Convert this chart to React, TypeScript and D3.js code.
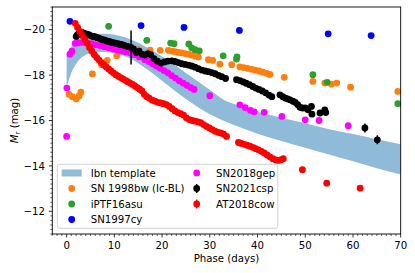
import React, { useEffect } from "react";
import * as d3 from "d3";

// Ibn template band (days, bright edge, faint edge)
const bandDays = [0, 1, 2, 3, 4, 6, 8, 10, 12, 14, 16, 18, 20, 22, 24, 26, 28, 30, 33, 36, 40, 45, 50, 55, 60, 65, 70];
const bandUpper = [-18.85, -19.25, -19.5, -19.64, -19.72, -19.8, -19.82, -19.78, -19.68, -19.52, -19.32, -19.08, -18.82, -18.55, -18.25, -17.95, -17.65, -17.35, -16.9, -16.66, -16.38, -16.12, -15.88, -15.62, -15.4, -15.17, -14.95];
const bandLower = [-17.45, -18.1, -18.5, -18.75, -18.9, -19.0, -19.02, -18.97, -18.85, -18.65, -18.38, -18.08, -17.75, -17.42, -17.1, -16.8, -16.52, -16.28, -15.98, -15.72, -15.42, -15.1, -14.8, -14.5, -14.2, -13.9, -13.62];

const sn1998bw: [number, number][] = [
  [0.5, -17.15], [1.2, -17.05], [2.0, -16.95], [2.6, -17.08], [3.0, -17.25],
  [5.4, -18.05], [7.3, -18.46], [8.5, -18.65], [10.5, -18.85],
  [15.1, -19.12], [17.5, -19.1], [19.6, -19.09], [21.3, -19.09], [22.0, -19.06], [22.7, -19.03], [23.4, -19.0], [24.1, -18.98], [24.8, -18.95], [25.5, -18.92], [26.2, -18.88], [26.9, -18.84], [27.6, -18.8],
  [29.7, -18.68], [30.6, -18.65], [32.1, -18.48], [34.6, -18.46], [36.3, -18.36], [37.1, -18.33], [37.9, -18.3], [38.7, -18.26], [39.5, -18.22], [40.3, -18.18], [41.1, -18.13], [41.9, -18.08], [42.6, -18.03],
  [45.6, -17.9], [51.6, -17.72], [54.1, -17.65], [55.5, -17.6], [56.6, -17.65], [59.5, -17.47], [69.4, -17.28],
];

const iptf16asu: [number, number][] = [
  [8.8, -20.15], [16.8, -19.53], [21.8, -19.41], [22.5, -19.38], [25.6, -19.37], [26.2, -19.2], [26.9, -19.12], [27.8, -19.07],
  [32.8, -18.85], [35.6, -18.71], [35.7, -18.8], [51.6, -18.02], [54.6, -17.68], [69.4, -16.74],
];

const sn1997cy: [number, number][] = [
  [0.7, -20.37], [15.6, -20.18], [24.6, -20.1], [36.2, -19.97], [54.8, -19.82], [63.8, -19.74],
];

const sn2018gep: [number, number][] = [
  [0, -15.3], [0.05, -17.43], [0.7, -18.92], [1.1, -19.05], [1.8, -19.4], [2.5, -19.42], [3.4, -19.44], [4.3, -19.42], [5.2, -19.38], [6.1, -19.34], [7.0, -19.3], [7.9, -19.25], [8.8, -19.2], [9.7, -19.15], [10.6, -19.11], [11.5, -19.06], [12.4, -19.02], [13.3, -18.98], [14.2, -18.9], [15.2, -18.8],
  [16.4, -18.68], [17.2, -18.6], [18.0, -18.5], [18.8, -18.4], [19.6, -18.3], [20.4, -18.2], [21.2, -18.1], [22.0, -17.98], [22.8, -17.87], [23.6, -17.75], [24.4, -17.65], [25.2, -17.55], [26.0, -17.45], [26.7, -17.37],
  [30.0, -17.09], [36.3, -16.69], [37.4, -16.57], [38.5, -16.45], [39.3, -16.38], [41.4, -16.36], [45.1, -16.18], [50.0, -16.03], [52.9, -16.0], [59.0, -15.77],
];

// day, mag, error
const sn2021csp: [number, number, number][] = [
  [2.0, -19.7, 0.05], [2.3, -19.78, 0.05], [2.6, -19.85, 0.05], [2.9, -19.88, 0.05], [3.2, -19.88, 0.05], [3.6, -19.85, 0.05], [3.9, -19.82, 0.05], [4.3, -19.8, 0.05], [4.6, -19.78, 0.05], [5.0, -19.74, 0.05], [5.3, -19.71, 0.05], [5.7, -19.7, 0.05], [6.0, -19.68, 0.05], [6.4, -19.65, 0.05], [6.7, -19.63, 0.05], [7.1, -19.6, 0.05], [7.4, -19.56, 0.05], [7.8, -19.55, 0.05], [8.1, -19.53, 0.05], [8.5, -19.5, 0.05], [8.8, -19.48, 0.05], [9.2, -19.46, 0.05], [9.5, -19.44, 0.05], [9.9, -19.42, 0.05], [10.2, -19.41, 0.05], [10.6, -19.39, 0.05], [10.9, -19.37, 0.05], [11.3, -19.35, 0.05], [11.6, -19.34, 0.05], [12.0, -19.31, 0.05], [12.3, -19.29, 0.05], [12.8, -19.26, 0.05], [13.5, -19.22, 0.75],
  [14.0, -19.15, 0.05], [14.6, -19.0, 0.05], [15.2, -19.05, 0.05], [15.8, -18.92, 0.05], [16.4, -18.88, 0.05], [17.0, -18.95, 0.05], [17.6, -18.9, 0.05], [18.3, -18.72, 0.05], [19.0, -18.62, 0.05], [19.8, -18.53, 0.05], [20.5, -18.58, 0.05], [21.2, -18.62, 0.05], [22.0, -18.63, 0.05], [22.7, -18.6, 0.05], [23.4, -18.55, 0.05], [24.1, -18.5, 0.05], [24.8, -18.47, 0.05], [25.5, -18.44, 0.05], [26.2, -18.4, 0.05], [26.9, -18.35, 0.05], [27.6, -18.28, 0.05], [28.3, -18.22, 0.05], [29.0, -18.18, 0.05], [29.7, -18.15, 0.05], [30.4, -18.11, 0.05], [31.1, -18.06, 0.05], [31.8, -17.99, 0.05], [32.5, -17.93, 0.05], [33.3, -17.85, 0.05],
  [35.6, -17.8, 0.05], [36.3, -17.76, 0.05], [37.0, -17.7, 0.05], [37.6, -17.64, 0.05], [38.3, -17.58, 0.05], [39.0, -17.5, 0.05], [39.6, -17.43, 0.05], [40.3, -17.37, 0.05], [41.0, -17.3, 0.05], [41.7, -17.22, 0.05], [42.4, -17.12, 0.05], [43.0, -17.05, 0.05],
  [44.7, -17.13, 0.05], [45.3, -17.05, 0.05], [45.8, -16.99, 0.05], [46.3, -16.95, 0.05], [46.8, -16.91, 0.05], [47.4, -16.85, 0.05], [47.9, -16.8, 0.05], [48.4, -16.7, 0.05], [48.9, -16.58, 0.05], [49.4, -16.55, 0.05], [50.0, -16.55, 0.05], [50.6, -16.47, 0.05], [51.3, -16.62, 0.05], [51.4, -16.28, 0.05], [53.1, -16.33, 0.05], [54.1, -16.47, 0.05], [54.3, -16.35, 0.05],
  [62.5, -15.67, 0.2], [65.1, -15.15, 0.2],
];

const at2018cow: [number, number][] = [
  [1.8, -20.28], [2.3, -20.1], [2.8, -19.92], [3.3, -19.75], [3.8, -19.58], [4.3, -19.4], [4.8, -19.22], [5.3, -19.05], [5.8, -18.9], [6.3, -18.77], [6.8, -18.66], [7.3, -18.55], [7.8, -18.45], [8.3, -18.36], [8.8, -18.27], [9.3, -18.18], [9.8, -18.1], [10.3, -18.02], [10.8, -17.95], [11.3, -17.89], [11.8, -17.83], [12.3, -17.77], [12.8, -17.71], [13.3, -17.65], [13.8, -17.59], [14.3, -17.52], [14.8, -17.45], [15.3, -17.38], [15.8, -17.3],
  [16.3, -17.15], [16.8, -17.05], [17.3, -16.98], [17.9, -16.9], [18.5, -16.85], [19.1, -16.8], [19.7, -16.77], [20.3, -16.74], [20.9, -16.7], [21.5, -16.62], [22.1, -16.52], [22.7, -16.42], [23.3, -16.35], [23.9, -16.3], [24.5, -16.24], [25.1, -16.12], [25.7, -16.04], [26.3, -16.0], [26.9, -15.97], [27.5, -15.94], [28.1, -15.9], [28.7, -15.82], [29.3, -15.74], [29.9, -15.67], [30.5, -15.6], [31.1, -15.53], [31.7, -15.48], [32.3, -15.45], [32.9, -15.4], [33.5, -15.3],
  [36.0, -15.03], [36.6, -14.99], [37.2, -14.95], [37.8, -14.91], [38.4, -14.87], [39.0, -14.82], [39.6, -14.76], [40.2, -14.71], [40.8, -14.64], [41.4, -14.57], [42.0, -14.48], [42.6, -14.4], [43.2, -14.32], [43.8, -14.26], [44.4, -14.24], [45.0, -14.27], [45.4, -14.32],
  [49.4, -13.83], [54.5, -13.24], [61.5, -13.02],
];

const xMajorTicks = [0, 10, 20, 30, 40, 50, 60, 70];
const yMajorTicks = [-20, -18, -16, -14, -12];

const FONT = "DejaVu Sans, Verdana, sans-serif";

export default function App() {
  useEffect(() => {
    document.body.style.margin = "0";
  }, []);

  const W = 415;
  const H = 273;
  const x = d3.scaleLinear().domain([-3, 70]).range([52.3, 400.7]);
  const y = d3.scaleLinear().domain([-21, -11]).range([7, 234]);
  const [x0, x1] = x.range();
  const [y0, y1] = y.range();

  const area = d3
    .area<number>()
    .x((d) => x(d))
    .y0((_, i) => y(bandLower[i]))
    .y1((_, i) => y(bandUpper[i]))
    .curve(d3.curveMonotoneX);

  const xMinor = d3.range(-3, 71, 1).filter((v) => !xMajorTicks.includes(v));
  const yMinor = d3.range(-21, -10.99, 0.2).map((v) => Math.round(v * 10) / 10).filter((v) => !yMajorTicks.includes(v));

  const r = 3.4;
  const fmt = (v: number) => (v < 0 ? "\u2212" + Math.abs(v) : String(v));

  const legendRows1 = [173, 188.5, 204, 219.5];
  const legendRows2 = [173, 188.5, 204];
  const lx1 = 71.7, tx1 = 90.7, lx2 = 196.7, tx2 = 216;

  return (
    <svg width={W} height={H} style={{ position: "absolute", left: 0, top: 0, background: "#fff" }} fontFamily={FONT}>
      <defs>
        <clipPath id="plotclip">
          <rect x={x0} y={y0} width={x1 - x0} height={y1 - y0} />
        </clipPath>
      </defs>
      <rect width={W} height={H} fill="#fff" />
      <g clipPath="url(#plotclip)">
        <path d={area(bandDays) || ""} fill="#1f77b4" fillOpacity={0.5} />
        {sn1998bw.map((d, i) => (
          <circle key={"o" + i} cx={x(d[0])} cy={y(d[1])} r={r} fill="#ff7f0e" />
        ))}
        {iptf16asu.map((d, i) => (
          <circle key={"g" + i} cx={x(d[0])} cy={y(d[1])} r={r} fill="#2ca02c" />
        ))}
        {sn1997cy.map((d, i) => (
          <circle key={"b" + i} cx={x(d[0])} cy={y(d[1])} r={r} fill="#0000ff" />
        ))}
        {sn2018gep.map((d, i) => (
          <circle key={"m" + i} cx={x(d[0])} cy={y(d[1])} r={r} fill="#ff00ff" />
        ))}
        {sn2021csp.map((d, i) => (
          <g key={"k" + i}>
            <line x1={x(d[0])} x2={x(d[0])} y1={y(d[1] - d[2])} y2={y(d[1] + d[2])} stroke="#000" strokeWidth={1.5} />
            <circle cx={x(d[0])} cy={y(d[1])} r={r} fill="#000" />
          </g>
        ))}
        {at2018cow.map((d, i) => (
          <circle key={"r" + i} cx={x(d[0])} cy={y(d[1])} r={r} fill="#ff0000" />
        ))}
      </g>

      {/* frame */}
      <rect x={x0} y={y0} width={x1 - x0} height={y1 - y0} fill="none" stroke="#000" strokeWidth={0.9} />

      {/* x ticks */}
      {xMinor.map((v) => (
        <line key={"xm" + v} x1={x(v)} x2={x(v)} y1={y1} y2={y1 + 2} stroke="#000" strokeWidth={0.6} />
      ))}
      {xMajorTicks.map((v) => (
        <g key={"xt" + v}>
          <line x1={x(v)} x2={x(v)} y1={y1} y2={y1 + 3.5} stroke="#000" strokeWidth={0.8} />
          <text x={x(v)} y={249} fontSize={10.2} textAnchor="middle" fill="#000">{fmt(v)}</text>
        </g>
      ))}
      {/* y ticks */}
      {yMinor.map((v) => (
        <line key={"ym" + v} x1={x0 - 2} x2={x0} y1={y(v)} y2={y(v)} stroke="#000" strokeWidth={0.6} />
      ))}
      {yMajorTicks.map((v) => (
        <g key={"yt" + v}>
          <line x1={x0 - 3.5} x2={x0} y1={y(v)} y2={y(v)} stroke="#000" strokeWidth={0.8} />
          <text x={45} y={y(v) + 3.7} fontSize={10.2} textAnchor="end" fill="#000">{fmt(v)}</text>
        </g>
      ))}

      {/* axis labels */}
      <text x={(x0 + x1) / 2} y={262} fontSize={10.2} textAnchor="middle" fill="#000">Phase (days)</text>
      <text transform={`translate(18,${(y0 + y1) / 2}) rotate(-90)`} fontSize={10.2} textAnchor="middle" fill="#000">
        <tspan fontStyle="italic">M</tspan>
        <tspan fontSize={7.2} dy={2}>r</tspan>
        <tspan dy={-2}> (mag)</tspan>
      </text>

      {/* legend */}
      <rect x={57.3} y={164.3} width={220.5} height={64} rx={2.5} fill="#fff" fillOpacity={0.8} stroke="#cccccc" strokeWidth={0.9} />
      <rect x={61.7} y={legendRows1[0] - 3.5} width={20} height={7} fill="#1f77b4" fillOpacity={0.5} />
      <circle cx={lx1} cy={legendRows1[1]} r={r} fill="#ff7f0e" />
      <circle cx={lx1} cy={legendRows1[2]} r={r} fill="#2ca02c" />
      <circle cx={lx1} cy={legendRows1[3]} r={r} fill="#0000ff" />
      {["Ibn template", "SN 1998bw (Ic-BL)", "iPTF16asu", "SN1997cy"].map((t, i) => (
        <text key={"l1" + i} x={tx1} y={legendRows1[i] + 3.7} fontSize={10.2} fill="#000">{t}</text>
      ))}
      <circle cx={lx2} cy={legendRows2[0]} r={r} fill="#ff00ff" />
      <line x1={lx2} x2={lx2} y1={legendRows2[1] - 4.5} y2={legendRows2[1] + 4.5} stroke="#000" strokeWidth={1.5} />
      <circle cx={lx2} cy={legendRows2[1]} r={r} fill="#000" />
      <line x1={lx2} x2={lx2} y1={legendRows2[2] - 4.5} y2={legendRows2[2] + 4.5} stroke="#ff0000" strokeWidth={1.5} />
      <circle cx={lx2} cy={legendRows2[2]} r={r} fill="#ff0000" />
      {["SN2018gep", "SN2021csp", "AT2018cow"].map((t, i) => (
        <text key={"l2" + i} x={tx2} y={legendRows2[i] + 3.7} fontSize={10.2} fill="#000">{t}</text>
      ))}
    </svg>
  );
}
